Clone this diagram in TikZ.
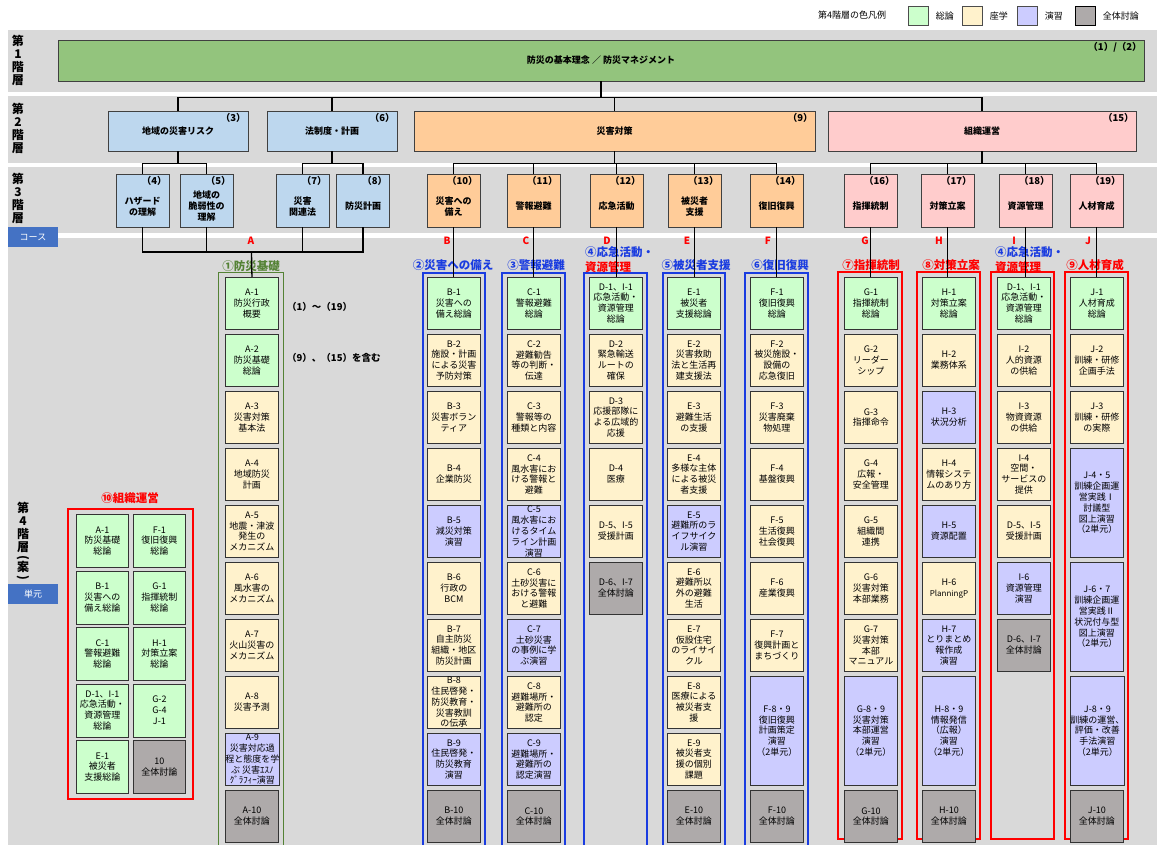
\documentclass[tikz,border=0pt]{standalone}
\usepackage{fontspec}
\setmainfont{Noto Sans CJK JP}
\usetikzlibrary{positioning}
\definecolor{bandgrey}{HTML}{D9D9D9}
\definecolor{topgreen}{HTML}{93C47D}
\definecolor{riskblue}{HTML}{BDD7EE}
\definecolor{taisaku}{HTML}{FFCC99}
\definecolor{soshiki}{HTML}{FFCCCC}
\definecolor{sou}{HTML}{CCFFCC}
\definecolor{zag}{HTML}{FFF2CC}
\definecolor{ens}{HTML}{CCCCFF}
\definecolor{zen}{HTML}{AEAAAA}
\definecolor{kihon}{HTML}{548235}
\definecolor{sainavy}{HTML}{1A3CE0}
\definecolor{coursebar}{HTML}{4472C4}
\newcommand\cellfont{\fontsize{9}{10.8}\selectfont}
\newcommand\lvfont{\bfseries\fontsize{9}{11}\selectfont}
\newcommand\numfont{\bfseries\fontsize{9.5}{11}\selectfont}
\newcommand\grpfont{\bfseries\fontsize{11.5}{15.5}\selectfont}
\newcommand\tierfont{\bfseries\fontsize{12}{13}\selectfont}
\newcommand\legfont{\fontsize{9}{11}\selectfont}

\begin{document}
\begin{tikzpicture}[x=1pt,y=-1pt,
    lvbox/.style={draw=black!75,line width=0.8pt,font=\lvfont,align=center,inner sep=0pt},
    lvnum/.style={font=\numfont,anchor=north east,inner sep=2.5pt},
    lvtext/.style={font=\lvfont,align=center,inner sep=0pt},
    unit/.style={draw=black!80,line width=0.9pt,anchor=north west,minimum width=53pt,
      minimum height=52pt,inner sep=0pt,align=center,font=\cellfont},
    tall/.style={minimum height=109pt},
    link/.style={line width=1.3pt},
    trunk/.style={line width=2.6pt},
    grp/.style={font=\grpfont,inner sep=0pt,align=left},
    letter/.style={font=\bfseries\fontsize{10}{12}\selectfont,text=red,inner sep=0pt},
    tier/.style={font=\tierfont,align=center,inner sep=0pt},
    tag/.style={fill=coursebar,text=white,font=\legfont,minimum width=50pt,minimum height=20pt,inner sep=0pt},
    swatch/.style={draw=black!70,line width=0.8pt,minimum width=20pt,minimum height=19pt,inner sep=0pt},
    gframe/.style={draw=kihon,line width=1.6pt},
    bframe/.style={draw=sainavy,line width=1.6pt},
    rframe/.style={draw=red,line width=1.6pt},
  ]
  \useasboundingbox (0,0) rectangle (1157,845);

  % bands
  \fill[bandgrey] (8,30) rectangle (1157,92);
  \fill[bandgrey] (8,96) rectangle (1157,163);
  \fill[bandgrey] (8,167) rectangle (1157,233);
  \fill[bandgrey] (8,238) rectangle (1157,845);

  \node[tier] (tier1) at (18,60) {第\\1\\階\\層};
  \node[tier] (tier2) at (18,128) {第\\2\\階\\層};
  \node[tier] (tier3) at (18,198) {第\\3\\階\\層};
  \node[tier] (tier4) at (23,542) {第\\4\\階\\層\\[-3pt]\rotatebox[origin=c]{-90}{(}\\[-3pt]案\\[-3pt]\rotatebox[origin=c]{-90}{)}};
  \node[tag] (course) at (33,237) {コース};
  \node[tag] (unitTag) at (33,594) {単元};

  % legend
  \node[font=\legfont] (legT) at (852,15) {第4階層の色凡例};
  \node[swatch,fill=sou] (lg1) at (918,16) {};
  \node[font=\legfont,right=4pt of lg1] (lg1t) {総論};
  \node[swatch,fill=zag] (lg2) at (972,16) {};
  \node[font=\legfont,right=4pt of lg2] (lg2t) {座学};
  \node[swatch,fill=ens] (lg3) at (1027,16) {};
  \node[font=\legfont,right=4pt of lg3] (lg3t) {演習};
  \node[swatch,fill=zen,draw=black] (lg4) at (1085,16) {};
  \node[font=\legfont,right=4pt of lg4] (lg4t) {全体討論};

  % tiers 1 and 2
  \node[lvbox,fill=topgreen,minimum width=1086pt,minimum height=41pt,
    label={[lvnum]north east:（1）/（2）}] (L1) at (601,60.5) {防災の基本理念 ／ 防災マネジメント};
  \node[lvbox,fill=riskblue,minimum width=140pt,minimum height=40pt,
    label={[lvnum]north east:（3）}] (L3) at (178,131) {地域の災害リスク};
  \node[lvbox,fill=riskblue,minimum width=130pt,minimum height=40pt,
    label={[lvnum]north east:（6）}] (L6) at (332,131) {法制度・計画};
  \node[lvbox,fill=taisaku,minimum width=401pt,minimum height=40pt,
    label={[lvnum]north east:（9）}] (L9) at (614.5,131) {災害対策};
  \node[lvbox,fill=soshiki,minimum width=308pt,minimum height=40pt,
    label={[lvnum]north east:（15）}] (L15) at (982,131) {組織運営};

  % tier 3
  \foreach \n/\x/\c/\t in {4/142.5/riskblue/{ハザード\\の理解},5/206.5/riskblue/{地域の\\脆弱性の\\理解},
      7/302.5/riskblue/{災害\\関連法},8/363/riskblue/防災計画,
      10/453.5/taisaku/{災害への\\備え},11/533.5/taisaku/警報避難,12/616.5/taisaku/応急活動,
      13/694.5/taisaku/{被災者\\支援},14/776.5/taisaku/復旧復興,
      16/870.5/soshiki/指揮統制,17/947.5/soshiki/対策立案,18/1025.5/soshiki/資源管理,19/1096.5/soshiki/人材育成}{
    \node[lvbox,fill=\c,minimum width=53pt,minimum height=53pt,
      label={[lvnum]north east:（\n）}] (T\n) at (\x,200.5) {};
    \node[lvtext] (Tx\n) at ([yshift=-6pt]T\n.center) {\t};
  }

  % tier 4 frames
  \draw[gframe] (218.5,272.5) rectangle (283.5,846);
  \foreach \a/\b in {423/485,502/565,584/647,663/725,745/808}
    \draw[bframe] (\a,273) rectangle (\b,846);
  \foreach \a/\b in {838/902,917/980,991/1054,1065/1128}
    \draw[rframe] (\a,272) rectangle (\b,839);
  \draw[rframe] (68,509) rectangle (193,799);

  % letters and group titles
  \foreach \l/\x in {A/251,B/447,C/526,D/607,E/687,F/768,G/865,H/939,I/1014,J/1088}
    \node[letter] (lt\l) at (\x,241) {\l};
  \node[grp,text=kihon] (gA) at (251,266) {①防災基礎};
  \node[grp,text=sainavy] (gB) at (453,265) {②災害への備え};
  \node[grp,text=sainavy] (gC) at (536,265) {③警報避難};
  \node[grp,anchor=west] (gD) at (585,259.5) {\textcolor{sainavy}{④応急活動・}\\\textcolor{red}{資源管理}};
  \node[grp,text=sainavy] (gE) at (696,265) {⑤被災者支援};
  \node[grp,text=sainavy] (gF) at (780,265) {⑥復旧復興};
  \node[grp,text=red] (gG) at (871,265) {⑦指揮統制};
  \node[grp,text=red] (gH) at (951,265) {⑧対策立案};
  \node[grp,anchor=west] (gI) at (995,259.5) {\textcolor{sainavy}{④応急活動・}\\\textcolor{red}{資源管理}};
  \node[grp,text=red] (gJ) at (1095,265) {⑨人材育成};
  \node[grp,text=red] (gK) at (130,498) {⑩組織運営};
  \node[font=\numfont,anchor=west,inner sep=0pt] (noteA) at (287,307) {（1）～（19）};
  \node[font=\numfont,anchor=west,inner sep=0pt] (noteB) at (287,358) {（9）、（15）を含む};

  % units
  \foreach \r/\s/\t in {1/sou/{A-1\\防災行政\\概要},2/sou/{A-2\\防災基礎\\総論},3/zag/{A-3\\災害対策\\基本法},
      4/zag/{A-4\\地域防災\\計画},5/zag/{A-5\\地震・津波\\発生の\\メカニズム},6/zag/{A-6\\風水害の\\メカニズム},
      7/zag/{A-7\\火山災害の\\メカニズム},8/zag/{A-8\\災害予測},
      9/ens/{\fontsize{8.6}{10.1}\selectfont A-9\\災害対応過\\程と態度を学\\ぶ 災害ｴｽﾉ\\ｸﾞﾗﾌｨｰ演習},10/zen/{A-10\\全体討論}}
    \node[unit,fill=\s] (A\r) at (225,{277+57*(\r-1)}) {\t};

  \foreach \r/\s/\t in {1/sou/{B-1\\災害への\\備え総論},2/zag/{B-2\\施設・計画\\による災害\\予防対策},
      3/zag/{B-3\\災害ボラン\\ティア},4/zag/{B-4\\企業防災},5/ens/{B-5\\減災対策\\演習},6/zag/{B-6\\行政の\\BCM},
      7/zag/{B-7\\自主防災\\組織・地区\\防災計画},
      8/zag/{\fontsize{9}{10.4}\selectfont B-8\\住民啓発・\\防災教育・\\災害教訓\\の伝承},
      9/ens/{B-9\\住民啓発・\\防災教育\\演習},10/zen/{B-10\\全体討論}}
    \node[unit,fill=\s] (B\r) at (427,{277+57*(\r-1)}) {\t};

  \foreach \r/\s/\t in {1/sou/{C-1\\警報避難\\総論},2/zag/{C-2\\避難勧告\\等の判断・\\伝達},
      3/zag/{C-3\\警報等の\\種類と内容},4/zag/{C-4\\風水害にお\\ける警報と\\避難},
      5/ens/{\fontsize{9}{10.4}\selectfont C-5\\風水害にお\\けるタイム\\ライン計画\\演習},
      6/zag/{C-6\\土砂災害に\\おける警報\\と避難},7/ens/{C-7\\土砂災害\\の事例に学\\ぶ演習},
      8/zag/{C-8\\避難場所・\\避難所の\\認定},9/ens/{C-9\\避難場所・\\避難所の\\認定演習},10/zen/{C-10\\全体討論}}
    \node[unit,fill=\s] (C\r) at (507,{277+57*(\r-1)}) {\t};

  \foreach \r/\s/\t in {1/sou/{D-1、I-1\\応急活動・\\資源管理\\総論},2/zag/{D-2\\緊急輸送\\ルートの\\確保},
      3/zag/{D-3\\応援部隊に\\よる広域的\\応援},4/zag/{D-4\\医療},5/zag/{D-5、I-5\\受援計画},
      6/zen/{D-6、I-7\\全体討論}}
    \node[unit,fill=\s] (D\r) at (589,{277+57*(\r-1)}) {\t};

  \foreach \r/\s/\t in {1/sou/{E-1\\被災者\\支援総論},2/zag/{E-2\\災害救助\\法と生活再\\建支援法},
      3/zag/{E-3\\避難生活\\の支援},4/zag/{E-4\\多様な主体\\による被災\\者支援},
      5/ens/{E-5\\避難所のラ\\イフサイク\\ル演習},6/zag/{E-6\\避難所以\\外の避難\\生活},
      7/zag/{E-7\\仮設住宅\\のライサイ\\クル},8/zag/{E-8\\医療による\\被災者支\\援},
      9/zag/{E-9\\被災者支\\援の個別\\課題},10/zen/{E-10\\全体討論}}
    \node[unit,fill=\s] (E\r) at (667,{277+57*(\r-1)}) {\t};

  \foreach \r/\s/\t in {1/sou/{F-1\\復旧復興\\総論},2/zag/{F-2\\被災施設・\\設備の\\応急復旧},
      3/zag/{F-3\\災害廃棄\\物処理},4/zag/{F-4\\基盤復興},5/zag/{F-5\\生活復興\\社会復興},
      6/zag/{F-6\\産業復興},7/zag/{F-7\\復興計画と\\まちづくり},10/zen/{F-10\\全体討論}}
    \node[unit,fill=\s] (F\r) at (750,{277+57*(\r-1)}) {\t};
  \node[unit,tall,fill=ens] (F8) at (750,676) {F-8・9\\復旧復興\\計画策定\\演習\\（2単元）};

  \foreach \r/\s/\t in {1/sou/{G-1\\指揮統制\\総論},2/zag/{G-2\\リーダー\\シップ},3/zag/{G-3\\指揮命令},
      4/zag/{G-4\\広報・\\安全管理},5/zag/{G-5\\組織間\\連携},6/zag/{G-6\\災害対策\\本部業務},
      7/zag/{G-7\\災害対策\\本部\\マニュアル},10/zen/{G-10\\全体討論}}
    \node[unit,fill=\s] (G\r) at (844,{277+57*(\r-1)}) {\t};
  \node[unit,tall,fill=ens] (G8) at (844,676) {G-8・9\\災害対策\\本部運営\\演習\\（2単元）};

  \foreach \r/\s/\t in {1/sou/{H-1\\対策立案\\総論},2/zag/{H-2\\業務体系},3/ens/{H-3\\状況分析},
      4/zag/{H-4\\情報システ\\ムのあり方},5/ens/{H-5\\資源配置},6/zag/{H-6\\{\fontsize{8}{10}\selectfont PlanningP}},
      7/ens/{H-7\\とりまとめ\\報作成\\演習},10/zen/{H-10\\全体討論}}
    \node[unit,fill=\s] (H\r) at (922,{277+57*(\r-1)}) {\t};
  \node[unit,tall,fill=ens] (H8) at (922,676) {H-8・9\\情報発信\\（広報）\\演習\\（2単元）};

  \foreach \r/\s/\t in {1/sou/{D-1、I-1\\応急活動・\\資源管理\\総論},2/zag/{I-2\\人的資源\\の供給},
      3/zag/{I-3\\物資資源\\の供給},4/zag/{I-4\\空間・\\サービスの\\提供},5/zag/{D-5、I-5\\受援計画},
      6/ens/{I-6\\資源管理\\演習},7/zen/{D-6、I-7\\全体討論}}
    \node[unit,fill=\s] (I\r) at (997,{277+57*(\r-1)}) {\t};

  \foreach \r/\s/\t in {1/sou/{J-1\\人材育成\\総論},2/zag/{J-2\\訓練・研修\\企画手法},
      3/zag/{J-3\\訓練・研修\\の実際},10/zen/{J-10\\全体討論}}
    \node[unit,fill=\s] (J\r) at (1070,{277+57*(\r-1)}) {\t};
  \node[unit,tall,fill=ens] (J4) at (1070,448) {J-4・5\\訓練企画運\\営実践Ⅰ\\討議型\\図上演習\\（2単元）};
  \node[unit,tall,fill=ens] (J6) at (1070,562) {J-6・7\\訓練企画運\\営実践Ⅱ\\状況付与型\\図上演習\\（2単元）};
  \node[unit,tall,fill=ens] (J8) at (1070,676) {J-8・9\\訓練の運営、\\評価・改善\\手法演習\\（2単元）};

  % group 10
  \foreach \r/\x/\k/\s/\t in {1/76/1/sou/{A-1\\防災基礎\\総論},2/76/2/sou/{B-1\\災害への\\備え総論},
      3/76/3/sou/{C-1\\警報避難\\総論},4/76/4/sou/{D-1、I-1\\応急活動・\\資源管理\\総論},
      5/76/5/sou/{E-1\\被災者\\支援総論},6/133/1/sou/{F-1\\復旧復興\\総論},7/133/2/sou/{G-1\\指揮統制\\総論},
      8/133/3/sou/{H-1\\対策立案\\総論},9/133/4/sou/{G-2\\G-4\\J-1},10/133/5/zen/{10\\全体討論}}
    \node[unit,fill=\s,minimum width=52pt,minimum height=53pt] (K\r) at (\x,{514+56.5*(\k-1)}) {\t};

  % connectors
  \draw[trunk] (L1.south) -- ++(0,16) coordinate (j1);
  \draw[link] (L3.north) |- (j1) -| (L15.north);
  \draw[link] (L6.north) -- (L6.north |- j1);
  \draw[link] (L9.north) -- (L9.north |- j1);

  \draw[link] (L3.south) -- ++(0,12) coordinate (j3);
  \draw[link] (T4.north) |- (j3) -| (T5.north);
  \draw[link] (L6.south) -- ++(0,12) coordinate (j6);
  \draw[link] (T7.north) |- (j6) -| (T8.north);
  \draw[link] (L9.south) -- ++(0,12) coordinate (j9);
  \draw[link] (T10.north) |- (j9) -| (T14.north);
  \foreach \n in {11,12,13}
    \draw[link] (T\n.north) -- (T\n.north |- j9);
  \draw[link] (L15.south) -- ++(0,12) coordinate (j15);
  \draw[link] (T16.north) |- (j15) -| (T19.north);
  \foreach \n in {17,18}
    \draw[link] (T\n.north) -- (T\n.north |- j15);

  \coordinate (jA) at (251.5,252);
  \draw[link] (T4.south) |- (jA) -| (T8.south);
  \draw[link] (T5.south) -- (T5.south |- jA);
  \draw[link] (T7.south) -- (T7.south |- jA);
  \draw[link] (jA) -- (A1.north);
  \foreach \t/\c in {10/B,11/C,12/D,13/E,14/F,16/G,17/H,18/I,19/J}
    \draw[link] (T\t.south) -- (T\t.south |- \c1.north);
\end{tikzpicture}
\end{document}
